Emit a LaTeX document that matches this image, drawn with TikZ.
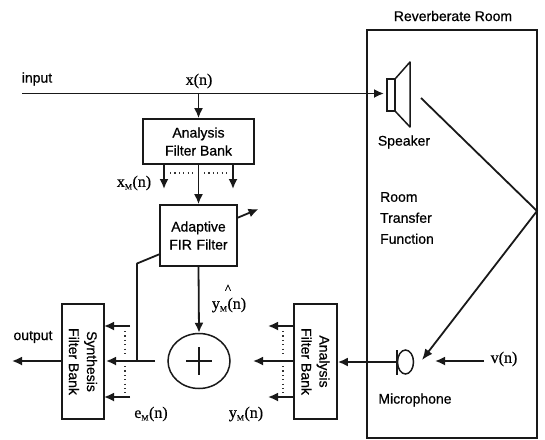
\documentclass[tikz,border=0pt]{standalone}
\usepackage{fontspec}
\setmainfont{Liberation Serif}[FakeBold=0.4]
\newfontfamily\lab{Liberation Sans}[FakeBold=0.6]
\usetikzlibrary{arrows.meta,shapes.geometric}
\tikzset{
  ln/.style={line width=1.8pt,black!90},
  arr/.style={ln,-{Latex[length=10pt,width=9pt]}},
  blk/.style={draw,line width=1.7pt,black!90,rectangle,inner sep=0pt,align=center,text=black,font=\lab\fontsize{14}{18}\selectfont},
  lbl/.style={inner sep=0pt,align=left,font=\lab\fontsize{14}{21}\selectfont},
  sig/.style={inner sep=0pt,font=\fontsize{16}{18}\selectfont},
  dots/.style={line width=1.1pt,black!80,dash pattern=on 1.2pt off 3.2pt},
  thinl/.style={draw,line width=1.5pt,black!90},
}
\begin{document}
\begin{tikzpicture}[x=1pt,y=-1pt]
\useasboundingbox (0,0) rectangle (545,439);
% room
\node[thinl,rectangle,inner sep=0pt,minimum width=170pt,minimum height=408pt] (room) at (452,234) {};
\node[lbl] (rtitle) at (453,16) {Reverberate Room};
% speaker
\node[thinl,rectangle,inner sep=0pt,minimum width=8pt,minimum height=32pt] (spk) at (391,95) {};
\coordinate (c1) at (395,79); \coordinate (c2) at (410,62); \coordinate (c3) at (410,127); \coordinate (c4) at (395,111);
\draw[thinl,line join=round] (c1) -- (c2) -- (c3) -- (c4);
\node[lbl] (spkl) at (404,142) {Speaker};
\node[lbl] (rtf) at (407,218) {Room\\Transfer\\Function};
% input
\coordinate (in) at (22,93.5);
\coordinate (spkin) at (384,93.5);
\draw[arr] (in) -- (spkin);
\node[lbl] (inl) at (37,79) {input};
\node[sig] (xn) at (199,81) {x(n)};
% analysis top
\node[blk,minimum width=111pt,minimum height=45pt] (afb) at (198.5,141.5) {Analysis\\Filter Bank};
\coordinate (tap) at (198.5,93.5);
\draw[arr] (tap) -- (afb.north);
\coordinate (bl0) at (164,164); \coordinate (bl1) at (164,189);
\coordinate (br0) at (233,164); \coordinate (br1) at (233,189);
\draw[arr] (bl0) -- (bl1);
\draw[arr] (br0) -- (br1);
\coordinate (d1) at (170,173); \coordinate (d2) at (195,173);
\coordinate (d3) at (204,173); \coordinate (d4) at (229,173);
\draw[dots] (d1) -- (d2);
\draw[dots] (d3) -- (d4);
\node[sig] (xm) at (134,183) {x\textsubscript{\fontsize{8}{8}\selectfont M}(n)};
% adaptive
\node[blk,minimum width=77pt,minimum height=61pt] (fir) at (198.5,235.5) {Adaptive\\FIR\,\,Filter};
\draw[arr] (afb.south) -- (fir.north);
\coordinate (adj0) at (237,218); \coordinate (adj1) at (258.5,209);
\draw[arr] (adj0) -- (adj1);
% summer
\node[thinl,ellipse,inner sep=0pt,minimum width=62pt,minimum height=55pt] (sum) at (199,361) {};
\coordinate (p1) at (186,361); \coordinate (p2) at (212,361); \coordinate (p3) at (199,347); \coordinate (p4) at (199,375);
\draw[line width=1.2pt,black!90] (p1) -- (p2) (p3) -- (p4);
\draw[arr] (fir.south) -- (sum.north);
\node[sig] (yh) at (229,305) {y\textsubscript{\fontsize{8}{8}\selectfont M}(n)};
\node[inner sep=0pt,font=\fontsize{13}{13}\selectfont] (hat) at (228,289) {\textasciicircum};
% synthesis
\node[blk,minimum width=42pt,minimum height=115pt] (sfb) at (83,361.5) {};
\node[rotate=-90,inner sep=0pt,align=center,font=\lab\fontsize{14}{18}\selectfont] (sfbt) at (sfb.center) {Synthesis\\Filter Bank};
\coordinate (out) at (12,361);
\draw[arr] (sfb.west |- out) -- (out);
\node[lbl] (outl) at (33,337) {output};
\coordinate (s1) at (130,326); \coordinate (s1e) at (104,326);
\coordinate (s2) at (155,361); \coordinate (s2e) at (106,361);
\coordinate (s3) at (130,397); \coordinate (s3e) at (104,397);
\draw[arr] (s1) -- (s1e);
\draw[arr] (s2) -- (s2e);
\draw[arr] (s3) -- (s3e);
\coordinate (sd1) at (125,331); \coordinate (sd2) at (125,357); \coordinate (sd3) at (125,366); \coordinate (sd4) at (125,393);
\draw[dots] (sd1) -- (sd2);
\draw[dots] (sd3) -- (sd4);
\coordinate (fb0) at (137,361); \coordinate (fb1) at (137,263.5); \coordinate (fb2) at (160,254);
\draw[ln,line join=round] (fb0) -- (fb1) -- (fb2);
\node[sig] (em) at (151,414) {e\textsubscript{\fontsize{8}{8}\selectfont M}(n)};
% analysis bottom
\node[blk,minimum width=43pt,minimum height=115pt] (afb2) at (315.5,361.5) {};
\node[rotate=-90,inner sep=0pt,align=center,font=\lab\fontsize{14}{18}\selectfont] (afb2t) at (afb2.center) {Analysis\\Filter Bank};
\coordinate (a1) at (294,326); \coordinate (a1e) at (268,326);
\coordinate (a2) at (294,361); \coordinate (a2e) at (253,361);
\coordinate (a3) at (294,397); \coordinate (a3e) at (268,397);
\draw[arr] (a1) -- (a1e);
\draw[arr] (a2) -- (a2e);
\draw[arr] (a3) -- (a3e);
\coordinate (ad1) at (283,331); \coordinate (ad2) at (283,357); \coordinate (ad3) at (283,366); \coordinate (ad4) at (283,393);
\draw[dots] (ad1) -- (ad2);
\draw[dots] (ad3) -- (ad4);
\node[sig] (ym) at (246,414) {y\textsubscript{\fontsize{8}{8}\selectfont M}(n)};
% microphone
\node[thinl,ellipse,inner sep=0pt,minimum width=16pt,minimum height=24pt] (mic) at (405.5,362) {};
\coordinate (mt) at (397,350); \coordinate (mb) at (397,375); \coordinate (mm) at (397,362);
\draw[thinl] (mt) -- (mb);
\draw[arr] (mm) -- (afb2.east |- mm);
\node[lbl] (micl) at (415,400) {Microphone};
% path
\coordinate (r0) at (421,98); \coordinate (r1) at (537,211); \coordinate (r2) at (422,360);
\draw[ln,-{Latex[length=11pt,width=9pt]},line join=miter] (r0) -- (r1) -- (r2);
\coordinate (v0) at (484,361); \coordinate (v1) at (435,361);
\draw[arr] (v0) -- (v1);
\node[sig] (vn) at (504,359) {v(n)};
\end{tikzpicture}
\end{document}
